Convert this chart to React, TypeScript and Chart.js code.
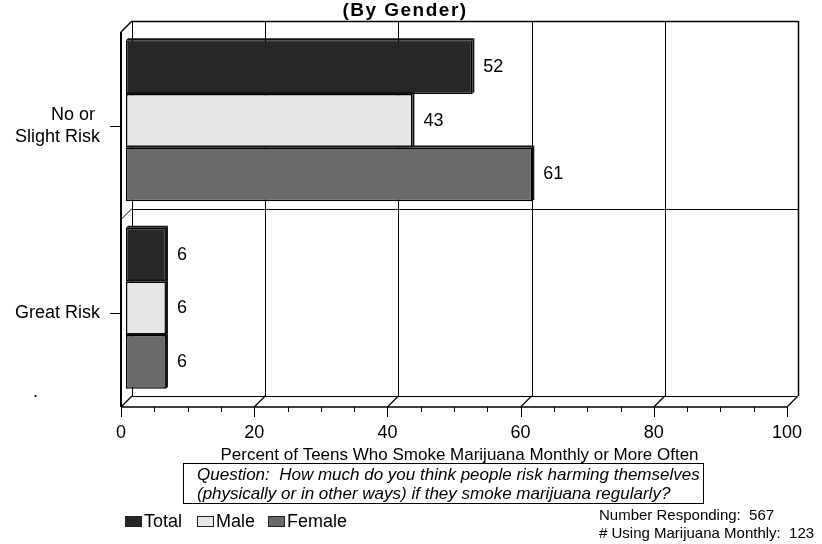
import React, { useEffect, useRef } from "react";
import { Chart, registerables } from "chart.js";

Chart.register(...registerables);

const categories = ["No or Slight Risk", "Great Risk"];
const categoryLabelLines = [["No or ", "Slight Risk"], ["Great Risk"]];
const seriesNames = ["Total", "Male", "Female"];
const totalValues = [52, 6];
const maleValues = [43, 6];
const femaleValues = [61, 6];
const seriesColors = ["#282828", "#e6e6e6", "#6a6a6a"];
const xTicks = [0, 20, 40, 60, 80, 100];
const xMinorStep = 5;
const titleText = "(By Gender)";
const xAxisTitle = "Percent of Teens Who Smoke Marijuana Monthly or More Often";
const questionLines = [
  "Question:  How much do you think people risk harming themselves",
  "(physically or in other ways) if they smoke marijuana regularly?",
];
const footnoteLines = ["Number Responding:  567", "# Using Marijuana Monthly:  123"];

const FONT = '"Liberation Sans", Arial, Helvetica, sans-serif';

const decorPlugin = {
  id: "decor",
  beforeDatasetsDraw(chart: any) {
    const { ctx, chartArea: a, scales } = chart;
    const x = scales.x;
    const y = scales.y;
    const fx = (v: number) => x.getPixelForValue(v) - 5;
    const bx = (v: number) => x.getPixelForValue(v) + 6;
    const fTop = a.top + 5;
    const fBot = a.bottom + 5;
    const bTop = a.top - 6;
    const bBot = a.bottom - 6;
    ctx.save();
    ctx.strokeStyle = "#000";
    ctx.lineWidth = 1;
    const line = (x1: number, y1: number, x2: number, y2: number, w = 1) => {
      ctx.lineWidth = w;
      ctx.beginPath();
      ctx.moveTo(x1, y1);
      ctx.lineTo(x2, y2);
      ctx.stroke();
    };
    // back wall verticals
    xTicks.forEach((v) => {
      const w = v === xTicks[xTicks.length - 1] ? 1.5 : 1;
      line(Math.round(bx(v)) + 0.5, bTop, Math.round(bx(v)) + 0.5, bBot, w);
    });
    // back wall top & bottom
    line(bx(0), Math.round(bTop) + 0.5, bx(100), Math.round(bTop) + 0.5, 1.5);
    line(bx(0), Math.round(bBot) + 0.5, bx(100), Math.round(bBot) + 0.5, 1);
    // category boundaries
    const boundaries: number[] = [];
    for (let i = 0; i < categories.length - 1; i++) {
      boundaries.push((y.getPixelForValue(i) + y.getPixelForValue(i + 1)) / 2);
    }
    boundaries.forEach((b) => {
      line(bx(0), Math.round(b - 6) + 0.5, bx(100), Math.round(b - 6) + 0.5, 1);
      line(fx(0), b + 5, bx(0), b - 6, 1);
    });
    // left wall
    line(fx(0), fTop, fx(0), fBot, 2);
    line(fx(0), fTop, bx(0), bTop, 1.5);
    // floor
    line(fx(0), fBot, fx(100), fBot, 1.5);
    xTicks.forEach((v) => line(fx(v), fBot, bx(v), bBot, 1.2));
    // x ticks
    for (let v = 0; v <= 100; v += xMinorStep) {
      const major = xTicks.includes(v);
      line(Math.round(fx(v)) + 0.5, fBot, Math.round(fx(v)) + 0.5, fBot + (major ? 10 : 5), 1);
    }
    // y ticks
    categories.forEach((_, i) => {
      const yc = Math.round(y.getPixelForValue(i) + 5) + 0.5;
      line(fx(0) - 11, yc, fx(0), yc, 1);
    });
    ctx.restore();
  },
  afterDatasetsDraw(chart: any) {
    const { ctx, chartArea: a, scales } = chart;
    const x = scales.x;
    const y = scales.y;
    const fx = (v: number) => x.getPixelForValue(v) - 5;
    const bx = (v: number) => x.getPixelForValue(v) + 6;
    const fBot = a.bottom + 5;
    ctx.save();
    const d = 2;
    chart.data.datasets.forEach((ds: any, di: number) => {
      const meta = chart.getDatasetMeta(di);
      meta.data.forEach((el: any, i: number) => {
        const p = el.getProps(["x", "y", "base", "height"], true);
        const top = p.y - p.height / 2;
        const bot = p.y + p.height / 2;
        ctx.fillStyle = "#111";
        ctx.beginPath();
        ctx.moveTo(p.x, top);
        ctx.lineTo(p.x + d, top - d);
        ctx.lineTo(p.x + d, bot - d);
        ctx.lineTo(p.x, bot);
        ctx.closePath();
        ctx.fill();
        ctx.beginPath();
        ctx.moveTo(p.base, top);
        ctx.lineTo(p.base + d, top - d);
        ctx.lineTo(p.x + d, top - d);
        ctx.lineTo(p.x, top);
        ctx.closePath();
        ctx.fill();
        // value label
        ctx.fillStyle = "#000";
        ctx.font = `18px ${FONT}`;
        ctx.textAlign = "left";
        ctx.textBaseline = "middle";
        ctx.fillText(String(ds.data[i]), p.x + 11, p.y);
      });
    });

    ctx.fillStyle = "#000";
    // x tick labels
    ctx.font = `18px ${FONT}`;
    ctx.textAlign = "center";
    ctx.textBaseline = "middle";
    xTicks.forEach((v) => ctx.fillText(String(v), fx(v), fBot + 26));
    // category labels
    ctx.textAlign = "right";
    categoryLabelLines.forEach((lines, i) => {
      const yc = y.getPixelForValue(i) + 5;
      const lh = 22;
      lines.forEach((t, k) => {
        ctx.fillText(t, fx(0) - 21, yc + (k - (lines.length - 1) / 2) * lh);
      });
    });
    ctx.textAlign = "left";
    ctx.fillText(".", 33, 392);
    // axis title
    ctx.font = `17px ${FONT}`;
    ctx.textAlign = "center";
    ctx.fillText(xAxisTitle, (fx(0) + bx(100)) / 2, 455);
    // question box
    ctx.lineWidth = 1;
    ctx.strokeStyle = "#000";
    ctx.strokeRect(183.5, 463.5, 520, 40);
    ctx.font = `italic 17px ${FONT}`;
    ctx.textAlign = "left";
    ctx.fillText(questionLines[0], 197, 475);
    ctx.fillText(questionLines[1], 197, 494);
    // title
    ctx.font = `bold 19px ${FONT}`;
    ctx.textAlign = "center";
    (ctx as any).letterSpacing = "1.5px";
    ctx.fillText(titleText, 405, 11);
    (ctx as any).letterSpacing = "0px";
    // legend
    const legendX = [125, 197, 268];
    ctx.font = `18px ${FONT}`;
    ctx.textAlign = "left";
    seriesNames.forEach((n, i) => {
      ctx.fillStyle = seriesColors[i];
      ctx.fillRect(legendX[i], 516, 17, 11);
      ctx.strokeStyle = "#222";
      ctx.lineWidth = 1;
      ctx.strokeRect(legendX[i] + 0.5, 516.5, 16, 10);
      ctx.fillStyle = "#000";
      ctx.fillText(n, legendX[i] + 19, 522);
    });
    // footnotes
    ctx.font = `15px ${FONT}`;
    ctx.fillText(footnoteLines[0], 599, 516);
    ctx.fillText(footnoteLines[1], 599, 534);
    ctx.restore();
  },
};

export default function App() {
  const ref = useRef<HTMLCanvasElement | null>(null);
  useEffect(() => {
    if (!ref.current) return;
    const chart = new Chart(ref.current, {
      type: "bar",
      data: {
        labels: categories,
        datasets: [
          { label: seriesNames[0], data: totalValues, backgroundColor: seriesColors[0] },
          { label: seriesNames[1], data: maleValues, backgroundColor: seriesColors[1] },
          { label: seriesNames[2], data: femaleValues, backgroundColor: seriesColors[2] },
        ].map((d) => ({
          ...d,
          borderColor: "#000",
          borderWidth: 1.5,
          borderSkipped: false,
          categoryPercentage: 0.8587,
          barPercentage: 1,
        })),
      },
      options: {
        indexAxis: "y",
        animation: false,
        responsive: false,
        maintainAspectRatio: false,
        layout: { padding: { left: 126, right: 30, top: 27, bottom: 142 } },
        scales: {
          x: { type: "linear", min: 0, max: 100, display: false },
          y: { type: "category", display: false },
        },
        plugins: {
          legend: { display: false },
          tooltip: { enabled: false },
          title: { display: false },
        },
      },
      plugins: [decorPlugin],
    } as any);
    return () => chart.destroy();
  }, []);
  return (
    <div style={{ position: "absolute", left: 0, top: 0, width: 822, height: 544, background: "#fff" }}>
      <canvas ref={ref} width={822} height={544} style={{ display: "block" }} />
    </div>
  );
}
